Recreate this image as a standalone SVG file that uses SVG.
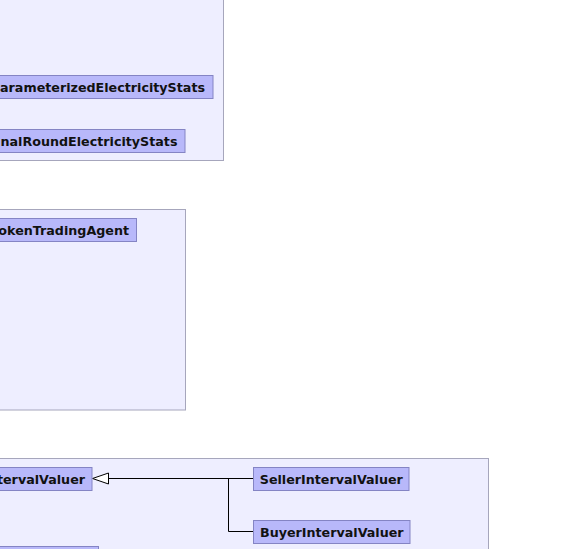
<svg xmlns="http://www.w3.org/2000/svg" width="570" height="549" viewBox="0 0 570 549">
<style>
.cluster{fill:#eeeeff;stroke:#a6a6bc;stroke-width:1}
.node rect{fill:#b8b8fa;stroke:#8484c4;stroke-width:1}
.node text{font-family:"DejaVu Sans",sans-serif;font-weight:bold;font-size:12.7px;fill:#111111}
.edge{fill:none;stroke:#000000;stroke-width:1}
</style>
<rect width="570" height="549" fill="#ffffff"/>
<rect class="cluster" x="-10" y="-10" width="233.5" height="170.5"/>
<rect class="cluster" x="-10" y="209.5" width="195.5" height="200.5"/>
<rect class="cluster" x="-10" y="458.5" width="498.5" height="100"/>
<g id="edges">
<path class="edge" d="M253 478.5 H108.5"/>
<path class="edge" d="M228.5 478.5 V531.5 H253"/>
<polygon points="92.5,478.5 108.5,473 108.5,484" fill="#ffffff" stroke="#000000" stroke-width="1"/>
</g>
<g id="ParameterizedElectricityStats" class="node">
<rect x="-10" y="75.5" width="223" height="23"/>
<text x="205" y="91.5" text-anchor="end">arameterizedElectricityStats</text>
</g>
<g id="FinalRoundElectricityStats" class="node">
<rect x="-10" y="129.5" width="195" height="23"/>
<text x="177.5" y="145.5" text-anchor="end">nalRoundElectricityStats</text>
</g>
<g id="TokenTradingAgent" class="node">
<rect x="-10" y="218.5" width="146.5" height="23"/>
<text x="129" y="234.5" text-anchor="end">okenTradingAgent</text>
</g>
<g id="IntervalValuer" class="node">
<rect x="-10" y="467.5" width="102" height="23"/>
<text x="85" y="483.5" text-anchor="end">tervalValuer</text>
</g>
<g id="SellerIntervalValuer" class="node">
<rect x="253.5" y="467.5" width="155.5" height="23"/>
<text x="331.3" y="483.5" text-anchor="middle">SellerIntervalValuer</text>
</g>
<g id="BuyerIntervalValuer" class="node">
<rect x="253.5" y="520.5" width="156.5" height="23"/>
<text x="331.8" y="536.5" text-anchor="middle">BuyerIntervalValuer</text>
</g>
<g id="BottomNode" class="node">
<rect x="-10" y="546.5" width="108.5" height="23"/>
</g>
</svg>
